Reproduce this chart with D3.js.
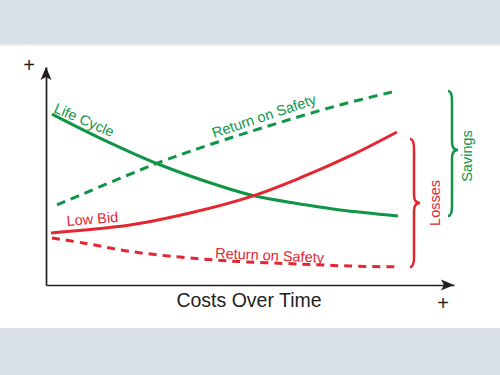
<!DOCTYPE html>
<html>
<head>
<meta charset="utf-8">
<script src="https://cdn.jsdelivr.net/npm/d3@7"></script>
<style>
  body { margin: 0; background: #fff; }
  svg { display: block; font-family: "Liberation Sans", Arial, Helvetica, sans-serif; }
</style>
</head>
<body>
<svg id="chart" width="500" height="375"></svg>
<script>
// cost curves (x = time, y = cost, arbitrary units)
var lifeCycleX = [1.5, 13.5, 28, 43.5, 52.25, 63.5, 73.5, 88];
var lifeCycleY = [78.4, 67.4, 55.5, 45.4, 40.8, 37.2, 34.4, 31.7];

var greenSafetyX = [2.75, 28, 43, 58, 73.5, 86.5];
var greenSafetyY = [36.7, 56.0, 65.6, 74.3, 82.6, 88.5];

var lowBidX = [1.25, 21, 36, 51, 63.5, 76, 87.75];
var lowBidY = [23.9, 27.5, 33.0, 40.4, 49.1, 59.2, 70.2];

var redSafetyX = [1.5, 9.25, 21, 33.5, 46, 63.5, 76, 88.5];
var redSafetyY = [21.6, 19.3, 15.4, 12.8, 11.0, 9.6, 8.7, 8.3];

var xTitle = "Costs Over Time";
var labels = ["Life Cycle", "Return on Safety", "Low Bid", "Return on Safety", "Losses", "Savings"];

var GREEN = "#109547";
var RED = "#e42631";
var INK = "#231f20";

var svg = d3.select("#chart");

// grey bands top and bottom
svg.append("rect").attr("x", 0).attr("y", 0).attr("width", 500).attr("height", 44).attr("fill", "#d9e0e7");
svg.append("rect").attr("x", 0).attr("y", 44).attr("width", 500).attr("height", 1.5).attr("fill", "#e4e9ee");
svg.append("rect").attr("x", 0).attr("y", 328).attr("width", 500).attr("height", 47).attr("fill", "#d9e0e7");

var x = d3.scaleLinear().domain([0, 102]).range([46, 454]);
var y = d3.scaleLinear().domain([0, 100]).range([285, 67]);

// axes, no ticks - just the lines
svg.append("g")
  .attr("transform", "translate(0," + y(0) + ")")
  .call(d3.axisBottom(x).tickValues([]).tickSizeOuter(0))
  .call(function(g) { g.select(".domain").attr("stroke", INK).attr("stroke-width", 1.7); });

svg.append("g")
  .attr("transform", "translate(" + x(0) + ",0)")
  .call(d3.axisLeft(y).tickValues([]).tickSizeOuter(0))
  .call(function(g) { g.select(".domain").attr("stroke", INK).attr("stroke-width", 1.7); });

// arrow heads
var xe = x(102), ye = y(100), x0 = x(0), y0 = y(0);
svg.append("path")
  .attr("d", "M" + xe + "," + y0 + "L" + (xe - 13) + "," + (y0 - 5.5) + "L" + (xe - 10) + "," + y0 + "L" + (xe - 13) + "," + (y0 + 5.5) + "Z")
  .attr("fill", INK);
svg.append("path")
  .attr("d", "M" + x0 + "," + ye + "L" + (x0 - 5.5) + "," + (ye + 13) + "L" + x0 + "," + (ye + 10) + "L" + (x0 + 5.5) + "," + (ye + 13) + "Z")
  .attr("fill", INK);

svg.append("text").attr("x", 29).attr("y", 72).attr("text-anchor", "middle")
  .attr("font-size", 20).attr("fill", INK).text("+");
svg.append("text").attr("x", 443).attr("y", 310).attr("text-anchor", "middle")
  .attr("font-size", 20).attr("fill", INK).text("+");

svg.append("text").attr("x", 249).attr("y", 307).attr("text-anchor", "middle")
  .attr("font-size", 19.5).attr("fill", INK).text(xTitle);

// curves
var line = d3.line()
  .x(function(d) { return x(d[0]); })
  .y(function(d) { return y(d[1]); })
  .curve(d3.curveCatmullRom.alpha(0.5));

function pts(xs, ys) {
  return xs.map(function(v, i) { return [v, ys[i]]; });
}

var series = [
  { pts: pts(lifeCycleX, lifeCycleY), color: GREEN, dash: null },
  { pts: pts(greenSafetyX, greenSafetyY), color: GREEN, dash: "9,6" },
  { pts: pts(lowBidX, lowBidY), color: RED, dash: null },
  { pts: pts(redSafetyX, redSafetyY), color: RED, dash: "8,6" }
];

svg.selectAll("path.curve")
  .data(series)
  .enter().append("path")
  .attr("class", "curve")
  .attr("d", function(d) { return line(d.pts); })
  .attr("fill", "none")
  .attr("stroke", function(d) { return d.color; })
  .attr("stroke-width", 3)
  .attr("stroke-dasharray", function(d) { return d.dash; });

// labels along the curves
function label(txt, dx, dy, angle, color) {
  svg.append("text")
    .attr("transform", "translate(" + x(dx) + "," + y(dy) + ") rotate(" + angle + ")")
    .attr("font-size", 14.5)
    .attr("fill", color)
    .text(txt);
}
label(labels[0], 1.75, 79.4, 23.5, GREEN);
label(labels[1], 42, 67.4, -18.5, GREEN);
label(labels[2], 5.25, 27.1, -4.5, RED);
label(labels[3], 42.25, 12.4, 2.5, RED);

// braces
function brace(xb, top, bot, mid, color) {
  var d = "M" + (xb - 3) + "," + top +
    "Q" + (xb + 1) + "," + top + " " + (xb + 1) + "," + (top + 10) +
    "L" + (xb + 1) + "," + (mid - 8) +
    "Q" + (xb + 1) + "," + mid + " " + (xb + 7) + "," + mid +
    "Q" + (xb + 1) + "," + mid + " " + (xb + 1) + "," + (mid + 8) +
    "L" + (xb + 1) + "," + (bot - 10) +
    "Q" + (xb + 1) + "," + bot + " " + (xb - 3) + "," + bot;
  svg.append("path").attr("d", d).attr("fill", "none")
    .attr("stroke", color).attr("stroke-width", 2.5);
}
var lossTop = y(67), lossBot = y(redSafetyY[redSafetyY.length - 1]);
brace(x(91.75), lossTop, lossBot, (lossTop + lossBot) / 2, RED);
var saveTop = y(greenSafetyY[greenSafetyY.length - 1]) - 1, saveBot = y(lifeCycleY[lifeCycleY.length - 1]);
brace(x(101.25), saveTop, saveBot, 150, GREEN);

svg.append("text")
  .attr("transform", "translate(440," + ((lossTop + lossBot) / 2) + ") rotate(-90)")
  .attr("text-anchor", "middle").attr("font-size", 14.5).attr("fill", RED)
  .text(labels[4]);
svg.append("text")
  .attr("transform", "translate(472,156) rotate(-90)")
  .attr("text-anchor", "middle").attr("font-size", 14.5).attr("fill", GREEN)
  .text(labels[5]);
</script>
</body>
</html>
